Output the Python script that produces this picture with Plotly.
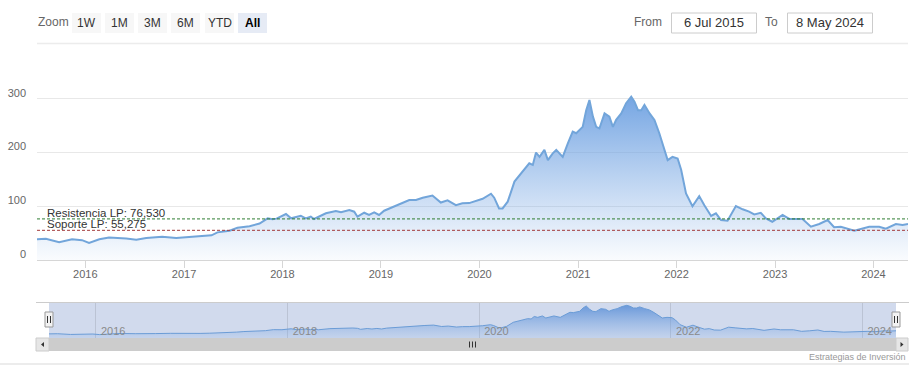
import plotly.graph_objects as go

# ---------------- data ----------------
dates = [
    "2015-07-06", "2015-08-08", "2015-09-26", "2015-11-13", "2015-12-20", "2016-01-15",
    "2016-02-22", "2016-03-29", "2016-06-01", "2016-07-08", "2016-08-14", "2016-10-12",
    "2016-12-03", "2017-02-01", "2017-03-10", "2017-04-13", "2017-05-05", "2017-06-19",
    "2017-07-18", "2017-09-01", "2017-10-08", "2017-11-07", "2017-11-25", "2017-12-10",
    "2018-01-14", "2018-02-02", "2018-03-10", "2018-03-28", "2018-04-16", "2018-04-28",
    "2018-06-11", "2018-07-18", "2018-08-06", "2018-09-06", "2018-09-24", "2018-10-06",
    "2018-10-31", "2018-11-18", "2018-12-07", "2018-12-25", "2019-01-13", "2019-02-26",
    "2019-04-16", "2019-05-11", "2019-06-05", "2019-07-11", "2019-08-11", "2019-09-05",
    "2019-10-06", "2019-10-30", "2019-11-24", "2020-01-13", "2020-02-13", "2020-02-25",
    "2020-03-14", "2020-03-27", "2020-04-15", "2020-05-10", "2020-05-28", "2020-06-22",
    "2020-07-04", "2020-07-17", "2020-07-29", "2020-08-11", "2020-08-29", "2020-09-11",
    "2020-09-29", "2020-10-12", "2020-11-05", "2020-11-24", "2020-12-12", "2020-12-25",
    "2021-01-18", "2021-01-31", "2021-02-12", "2021-02-25", "2021-03-09", "2021-03-21",
    "2021-04-09", "2021-04-27", "2021-05-10", "2021-05-22", "2021-06-10", "2021-06-28",
    "2021-07-17", "2021-07-29", "2021-08-11", "2021-08-23", "2021-09-04", "2021-09-23",
    "2021-10-11", "2021-10-29", "2021-11-17", "2021-11-29", "2021-12-17", "2022-01-05",
    "2022-01-18", "2022-02-05", "2022-03-01", "2022-03-26", "2022-04-14", "2022-05-09",
    "2022-05-27", "2022-06-15", "2022-07-09", "2022-08-09", "2022-09-03", "2022-09-27",
    "2022-10-16", "2022-11-09", "2022-11-28", "2022-12-22", "2023-01-29", "2023-02-23",
    "2023-04-13", "2023-05-14", "2023-06-14", "2023-07-15", "2023-08-08", "2023-09-02",
    "2023-10-22", "2023-12-16", "2024-01-22", "2024-02-16", "2024-03-24", "2024-04-18",
    "2024-05-08",
]
prices = [
    38.5, 39.7, 33.0, 38.5, 37.0, 31.6,
    38.5, 42.0, 40.0, 37.8, 41.0, 43.4,
    41.0, 42.8, 44.7, 46.0, 51.5, 54.6,
    60.0, 63.0, 68.0, 77.6, 75.8, 77.0,
    85.7, 77.6, 82.5, 77.6, 80.7, 76.4,
    87.0, 91.0, 88.8, 93.0, 90.0, 80.7,
    88.0, 83.8, 88.8, 83.8, 91.8, 100.6,
    111.7, 111.7, 116.0, 120.0, 107.0, 111.0,
    102.0, 105.6, 106.0, 114.0, 123.5, 116.0,
    96.0, 96.0, 108.6, 146.0, 157.0, 173.7,
    180.0, 177.0, 200.0, 192.0, 205.0, 186.0,
    198.6, 205.0, 192.0, 217.0, 239.0, 236.0,
    248.0, 279.0, 298.0, 267.0, 248.0, 245.0,
    273.0, 267.0, 248.0, 261.0, 273.0, 292.0,
    304.0, 295.0, 279.0, 279.0, 289.0, 273.0,
    261.0, 236.0, 205.0, 186.0, 192.0, 189.0,
    168.0, 124.0, 100.0, 119.0, 102.0, 82.0,
    87.0, 74.5, 73.0, 100.6, 94.4, 90.0,
    85.0, 88.0, 77.6, 71.3, 83.8, 76.4,
    76.4, 62.0, 67.0, 74.5, 61.0, 62.0,
    54.6, 62.0, 62.0, 58.3, 67.0, 65.0,
    67.0,
]
RESISTANCE = 76.530
SUPPORT = 55.275
y_ticks = [0, 100, 200, 300]
range_buttons = ["1W", "1M", "3M", "6M", "YTD", "All"]
date_from = "6 Jul 2015"
date_to = "8 May 2024"
credits_text = "Estrategias de Inversión"

W, H = 919, 381
FONT = "Liberation Sans, Arial, sans-serif"


def px(x):
    return x / W


def py(y):
    return 1 - y / H


def es_num(v):
    return f"{v:.3f}".replace(".", ",")


fig = go.Figure()

# main area series
fig.add_trace(go.Scatter(
    x=dates, y=prices, mode="lines", xaxis="x", yaxis="y",
    line=dict(color="#72a5da", width=2),
    fill="tozeroy",
    fillgradient=dict(type="vertical", start=0, stop=305,
                      colorscale=[[0, "rgba(124,170,228,0.04)"],
                                  [1, "rgba(104,157,224,0.92)"]]),
    hoverinfo="skip", showlegend=False,
))

# navigator series
fig.add_trace(go.Scatter(
    x=dates, y=prices, mode="lines", xaxis="x2", yaxis="y2",
    line=dict(color="#6b9cd6", width=1),
    fill="tozeroy",
    fillgradient=dict(type="vertical", start=0, stop=305,
                      colorscale=[[0, "rgba(124,170,228,0.15)"],
                                  [1, "rgba(95,145,215,0.9)"]]),
    hoverinfo="skip", showlegend=False,
))

shapes = []
annotations = []

# support / resistance lines
for val, col in [(RESISTANCE, "#2f7d32"), (SUPPORT, "#a33a3a")]:
    shapes.append(dict(type="line", xref="x domain", yref="y", x0=0, x1=1,
                       y0=val, y1=val, line=dict(color=col, width=1, dash="3px,2px"),
                       layer="above"))
annotations.append(dict(xref="paper", yref="y", x=px(46), y=RESISTANCE, xanchor="left",
                        yanchor="middle", yshift=6, showarrow=False, borderpad=0,
                        text=f"Resistencia LP: {es_num(RESISTANCE)}",
                        font=dict(family=FONT, size=11.5, color="#333333")))
annotations.append(dict(xref="paper", yref="y", x=px(46), y=SUPPORT, xanchor="left",
                        yanchor="middle", yshift=6, showarrow=False, borderpad=0,
                        text=f"Soporte LP: {es_num(SUPPORT)}",
                        font=dict(family=FONT, size=11.5, color="#333333")))

# top separator and bottom container border
shapes.append(dict(type="line", xref="paper", yref="paper", x0=px(37), x1=px(908),
                   y0=py(43.5), y1=py(43.5), line=dict(color="#ececec", width=1.5)))
shapes.append(dict(type="line", xref="paper", yref="paper", x0=0, x1=px(909),
                   y0=py(364), y1=py(364), line=dict(color="#d9d9d9", width=1)))

# range selector
annotations.append(dict(xref="paper", yref="paper", x=px(36), y=py(22), xanchor="left",
                        yanchor="middle", showarrow=False, text="Zoom",
                        font=dict(family=FONT, size=12, color="#666666")))
btn_x = [72, 105, 138, 171, 205, 238]
for lab, x0 in zip(range_buttons, btn_x):
    sel = lab == "All"
    shapes.append(dict(type="rect", xref="paper", yref="paper", x0=px(x0), x1=px(x0 + 29),
                       y0=py(33), y1=py(13), line=dict(width=0),
                       fillcolor="#e6ebf5" if sel else "#f7f7f7"))
    annotations.append(dict(xref="paper", yref="paper", x=px(x0 + 14.5), y=py(22.5),
                            xanchor="center", yanchor="middle", showarrow=False,
                            text=f"<b>{lab}</b>" if sel else lab,
                            font=dict(family=FONT, size=12,
                                      color="#000000" if sel else "#333333")))

# date inputs
annotations.append(dict(xref="paper", yref="paper", x=px(664), y=py(22), xanchor="right",
                        yanchor="middle", showarrow=False, text="From",
                        font=dict(family=FONT, size=12, color="#666666")))
annotations.append(dict(xref="paper", yref="paper", x=px(780), y=py(22), xanchor="right",
                        yanchor="middle", showarrow=False, text="To",
                        font=dict(family=FONT, size=12, color="#666666")))
for x0, x1, txt in [(671.5, 756.5, date_from), (787.5, 872.5, date_to)]:
    shapes.append(dict(type="rect", xref="paper", yref="paper", x0=px(x0), x1=px(x1),
                       y0=py(33), y1=py(13), line=dict(color="#cccccc", width=1),
                       fillcolor="white"))
    annotations.append(dict(xref="paper", yref="paper", x=px((x0 + x1) / 2), y=py(22.5),
                            xanchor="center", yanchor="middle", showarrow=False, text=txt,
                            font=dict(family=FONT, size=13, color="#333333")))

# navigator mask / outline
shapes.append(dict(type="rect", xref="paper", yref="paper", x0=px(49), x1=px(896),
                   y0=py(338), y1=py(302.5), line=dict(width=0),
                   fillcolor="rgba(102,133,194,0.3)", layer="below"))
shapes.append(dict(type="line", xref="paper", yref="paper", x0=px(36), x1=px(909),
                   y0=py(302.5), y1=py(302.5), line=dict(color="#cccccc", width=1)))

# scrollbar
shapes.append(dict(type="rect", xref="paper", yref="paper", x0=px(36), x1=px(908),
                   y0=py(351), y1=py(338), line=dict(width=0), fillcolor="#f2f2f2"))
shapes.append(dict(type="rect", xref="paper", yref="paper", x0=px(49), x1=px(896),
                   y0=py(351), y1=py(338), line=dict(width=0), fillcolor="#cccccc"))
for x0, x1 in [(36, 49), (896, 908)]:
    shapes.append(dict(type="rect", xref="paper", yref="paper", x0=px(x0), x1=px(x1),
                       y0=py(351), y1=py(338), line=dict(color="#cccccc", width=1),
                       fillcolor="#e6e6e6"))
shapes.append(dict(type="path", xref="paper", yref="paper",
                   path=f"M {px(44)} {py(342)} L {px(41)} {py(344.5)} L {px(44)} {py(347)} Z",
                   fillcolor="#333333", line=dict(width=0)))
shapes.append(dict(type="path", xref="paper", yref="paper",
                   path=f"M {px(900.5)} {py(342)} L {px(903.5)} {py(344.5)} L {px(900.5)} {py(347)} Z",
                   fillcolor="#333333", line=dict(width=0)))
for gx in [469.5, 472.5, 475.5]:
    shapes.append(dict(type="line", xref="paper", yref="paper", x0=px(gx), x1=px(gx),
                       y0=py(341.5), y1=py(347.5), line=dict(color="#333333", width=1)))

# navigator handles
for hx in [49, 896]:
    shapes.append(dict(type="rect", xref="paper", yref="paper", x0=px(hx - 4), x1=px(hx + 4),
                       y0=py(327), y1=py(312), line=dict(color="#999999", width=1),
                       fillcolor="#f2f2f2"))
    for dx in [-1.5, 1.5]:
        shapes.append(dict(type="line", xref="paper", yref="paper", x0=px(hx + dx),
                           x1=px(hx + dx), y0=py(316), y1=py(323),
                           line=dict(color="#333333", width=1)))

# credits
annotations.append(dict(xref="paper", yref="paper", x=px(908), y=py(357), xanchor="right",
                        yanchor="middle", showarrow=False, text=credits_text,
                        font=dict(family=FONT, size=9, color="#999999")))

fig.update_layout(
    template="none",
    width=W, height=H,
    margin=dict(l=0, r=0, t=0, b=0, autoexpand=False),
    paper_bgcolor="white", plot_bgcolor="rgba(0,0,0,0)",
    font=dict(family=FONT),
    showlegend=False,
    hovermode=False,
    shapes=shapes,
    annotations=annotations,
    xaxis=dict(domain=[px(37), px(908)], anchor="y", range=[dates[0], dates[-1]],
               type="date", dtick="M12", tick0="2016-01-01", tickformat="%Y",
               showgrid=False, showline=True, linecolor="#d6d6d6", linewidth=1,
               ticks="outside", ticklen=7, tickcolor="#d6d6d6", automargin=False,
               ticklabelstandoff=-3,
               tickfont=dict(size=11, color="#666666"), zeroline=False),
    yaxis=dict(domain=[py(260), py(66.7)], anchor="x", range=[0, 360],
               tickvals=y_ticks, showgrid=True, gridcolor="#e8e8e8", gridwidth=1,
               zeroline=False, automargin=False, ticks="",
               showline=False, ticklabelshift=-6, ticklabelstandoff=10,
               tickfont=dict(size=11, color="#666666")),
    xaxis2=dict(domain=[px(49), px(896)], anchor="y2", range=[dates[0], dates[-1]],
                type="date", dtick="M24", tick0="2016-01-01", tickformat="%Y",
                showgrid=True, gridcolor="rgba(0,0,0,0.10)", ticks="", automargin=False,
                ticklabelposition="inside right", ticklabelshift=5, ticklabelstandoff=-5,
                tickfont=dict(size=11, color="#8a8a8a"), showline=False, zeroline=False),
    yaxis2=dict(domain=[py(338), py(302.5)], anchor="x2", range=[0, 330],
                visible=False, showgrid=False, zeroline=False, automargin=False),
)

fig.write_html("out.html", config={"displayModeBar": False},
               post_script="document.body.style.margin='0';")
